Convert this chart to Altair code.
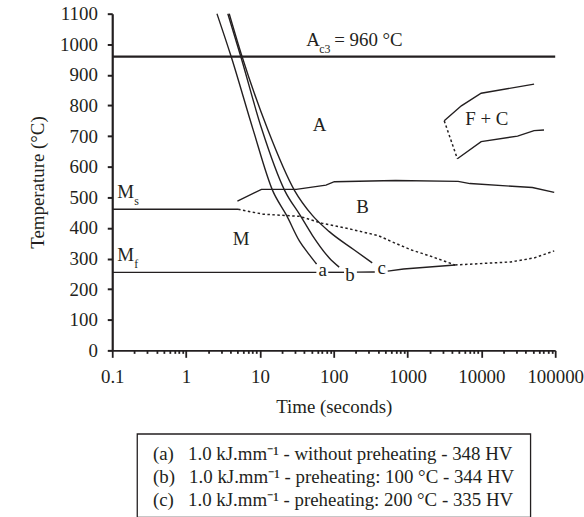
import altair as alt
import pandas as pd

INK = "#231f20"
FONT = "Liberation Serif"

# ---------------- data (time in s, temperature in °C) ----------------
curve_a_t = [2.62, 4.08, 8.05, 14.9, 23.0, 34.4, 46.9, 58.5]
curve_a_T = [1100, 960, 723, 522, 441, 357, 312, 282]
curve_b_t = [3.68, 5.51, 10.6, 21.7, 35.2, 51.4, 87.1, 118.6]
curve_b_T = [1100, 960, 723, 522, 441, 376, 302, 272]
curve_c_t = [3.84, 5.73, 12.7, 29.5, 51.4, 87.1, 190, 332]
curve_c_T = [1100, 960, 723, 522, 441, 388, 328, 286]

ac3_t = [0.1, 100000]
ac3_T = [960, 960]

ms_t = [0.1, 5.07]
ms_T = [461, 461]
ms_dash_t = [5.07, 11.0, 34.4, 70.1, 150, 400, 684, 1132, 2099, 4406]
ms_dash_T = [461, 445, 438, 415, 399, 375, 350, 328, 307, 279]

bf_dash_t = [4406, 25100, 51760, 97000]
bf_dash_T = [279, 289, 302, 325]

mf1_t = [0.1, 58.2]
mf1_T = [255, 255]
mf2_t = [84.3, 138]
mf2_T = [255, 255]
mf3_t = [206, 360]
mf3_T = [255.5, 256]
mf4_t = [539, 883, 4406]
mf4_T = [259, 266, 279]

bs_t = [4.96, 10.5, 31.1, 78.5, 102, 690, 4840, 7010, 49100, 97000]
bs_T = [488, 526, 526, 540, 551, 555, 552, 545, 532, 516]

fc_up_t = [3140, 5356, 9930, 51760]
fc_up_T = [750, 799, 840, 870]
fc_low_t = [4730, 9930, 30900, 51760, 70500]
fc_low_T = [626, 682, 700, 718, 720]
fc_dash_t = [3140, 4730]
fc_dash_T = [750, 626]

# labels
center_labels = ["A", "B", "M", "F + C", "a", "b", "c"]
center_t = [64.4, 245, 5.56, 11860, 71.1, 166, 448]
center_T = [718, 448, 343, 736.5, 243, 227, 250]
left_labels = ["M", "M", "A", "= 960 °C"]
left_t = [0.1167, 0.1167, 42.4, 101.6]
left_T = [496.4, 291, 993.8, 994]
sub_labels = ["s", "f", "c3"]
sub_t = [0.199, 0.199, 63.8]
sub_T = [474.7, 269, 972]

legend_keys = ["a", "b", "c"]
legend_lines = [
    "(a)\u2002 1.0 kJ.mm\u207b\u00b9 - without preheating - 348 HV",
    "(b)\u2002 1.0 kJ.mm\u207b\u00b9 - preheating: 100 °C - 344 HV",
    "(c)\u2002 1.0 kJ.mm\u207b\u00b9 - preheating: 200 °C - 335 HV",
]

decades = [0.1, 1, 10, 100, 1000, 10000, 100000]
minor_mult = [2, 3, 4, 5, 6, 7, 8, 9]
minor_ticks = [m * d for d in decades[:-1] for m in minor_mult]
y_ticks = [0, 100, 200, 300, 400, 500, 600, 700, 800, 900, 1000, 1100]


def frame(groups):
    rows = []
    for name, ts, Ts in groups:
        for i, (t, T) in enumerate(zip(ts, Ts)):
            rows.append({"name": name, "i": i, "t": t, "T": T})
    return pd.DataFrame(rows)


cool_df = frame([("a", curve_a_t, curve_a_T), ("b", curve_b_t, curve_b_T), ("c", curve_c_t, curve_c_T)])
ac3_df = frame([("ac3", ac3_t, ac3_T)])
solid_df = frame([
    ("ms", ms_t, ms_T), ("mf1", mf1_t, mf1_T), ("mf2", mf2_t, mf2_T), ("mf3", mf3_t, mf3_T),
    ("mf4", mf4_t, mf4_T), ("bs", bs_t, bs_T), ("fcu", fc_up_t, fc_up_T), ("fcl", fc_low_t, fc_low_T),
])
dash_df = frame([("msd", ms_dash_t, ms_dash_T), ("bfd", bf_dash_t, bf_dash_T), ("fcd", fc_dash_t, fc_dash_T)])
center_df = pd.DataFrame({"label": center_labels, "t": center_t, "T": center_T})
left_df = pd.DataFrame({"label": left_labels, "t": left_t, "T": left_T})
sub_df = pd.DataFrame({"label": sub_labels, "t": sub_t, "T": sub_T})

decade_test = "abs(log(datum.value)/LN10 - round(log(datum.value)/LN10)) < 0.001"

x_enc = alt.X(
    "t:Q",
    scale=alt.Scale(type="log", domain=[0.1, 100000]),
    axis=alt.Axis(
        values=decades + minor_ticks,
        labelExpr=f"{decade_test} ? format(datum.value, '~g') : ''",
        labelOverlap=False,
        labelFlush=False,
        labelBound=False,
        title="Time (seconds)",
        tickSize={"condition": {"test": decade_test, "value": 7}, "value": 3},
        tickWidth=1.8,
        domainWidth=2,
        labelPadding=10,
        titlePadding=12,
        grid=False,
    ),
)
y_enc = alt.Y(
    "T:Q",
    scale=alt.Scale(domain=[0, 1100], nice=False),
    axis=alt.Axis(
        values=y_ticks,
        format="d",
        title="Temperature (°C)",
        tickSize=5,
        tickWidth=2,
        domainWidth=2.2,
        labelPadding=10,
        titlePadding=12,
        grid=False,
    ),
)

cool = alt.Chart(cool_df).mark_line(interpolate="monotone", color=INK, strokeWidth=1.4).encode(
    x=x_enc, y=y_enc, detail="name:N", order="i:Q")
ac3 = alt.Chart(ac3_df).mark_line(color=INK, strokeWidth=2.3).encode(
    x=x_enc, y=y_enc, detail="name:N", order="i:Q")
solid = alt.Chart(solid_df).mark_line(color=INK, strokeWidth=1.4).encode(
    x=x_enc, y=y_enc, detail="name:N", order="i:Q")
dashed = alt.Chart(dash_df).mark_line(color=INK, strokeWidth=1.5, strokeDash=[2.5, 2.5]).encode(
    x=x_enc, y=y_enc, detail="name:N", order="i:Q")
txt_c = alt.Chart(center_df).mark_text(align="center", baseline="alphabetic", font=FONT, fontSize=19, color=INK).encode(
    x=x_enc, y=y_enc, text="label:N")
txt_l = alt.Chart(left_df).mark_text(align="left", baseline="alphabetic", font=FONT, fontSize=19, color=INK).encode(
    x=x_enc, y=y_enc, text="label:N")
txt_s = alt.Chart(sub_df).mark_text(align="left", baseline="alphabetic", font=FONT, fontSize=12, color=INK).encode(
    x=x_enc, y=y_enc, text="label:N")

main = alt.layer(ac3, solid, dashed, cool, txt_c, txt_l, txt_s).properties(width=446, height=339)

legend_df = pd.DataFrame({"k": legend_keys, "line": legend_lines})
legend = alt.Chart(legend_df).mark_text(
    align="left", baseline="middle", font=FONT, fontSize=19, color=INK
).encode(
    x=alt.value(16),
    y=alt.Y("k:N", axis=None, scale=alt.Scale(type="point", range=[20, 67], padding=0)),
    text="line:N",
).properties(width=396, height=84, view=alt.ViewBackground(stroke=INK, strokeWidth=1.3))

chart = alt.vconcat(main, legend, spacing=84, bounds="flush", center=True).properties(
    padding={"left": 28, "top": 2, "right": 0, "bottom": 0}
).configure_view(stroke="transparent").configure_axis(
    labelFont=FONT, titleFont=FONT, labelFontSize=19, titleFontSize=19, titleFontWeight="normal",
    labelColor=INK, titleColor=INK, domainColor=INK, tickColor=INK,
)

chart.save("out.html", embed_options={"renderer": "svg", "actions": False})
